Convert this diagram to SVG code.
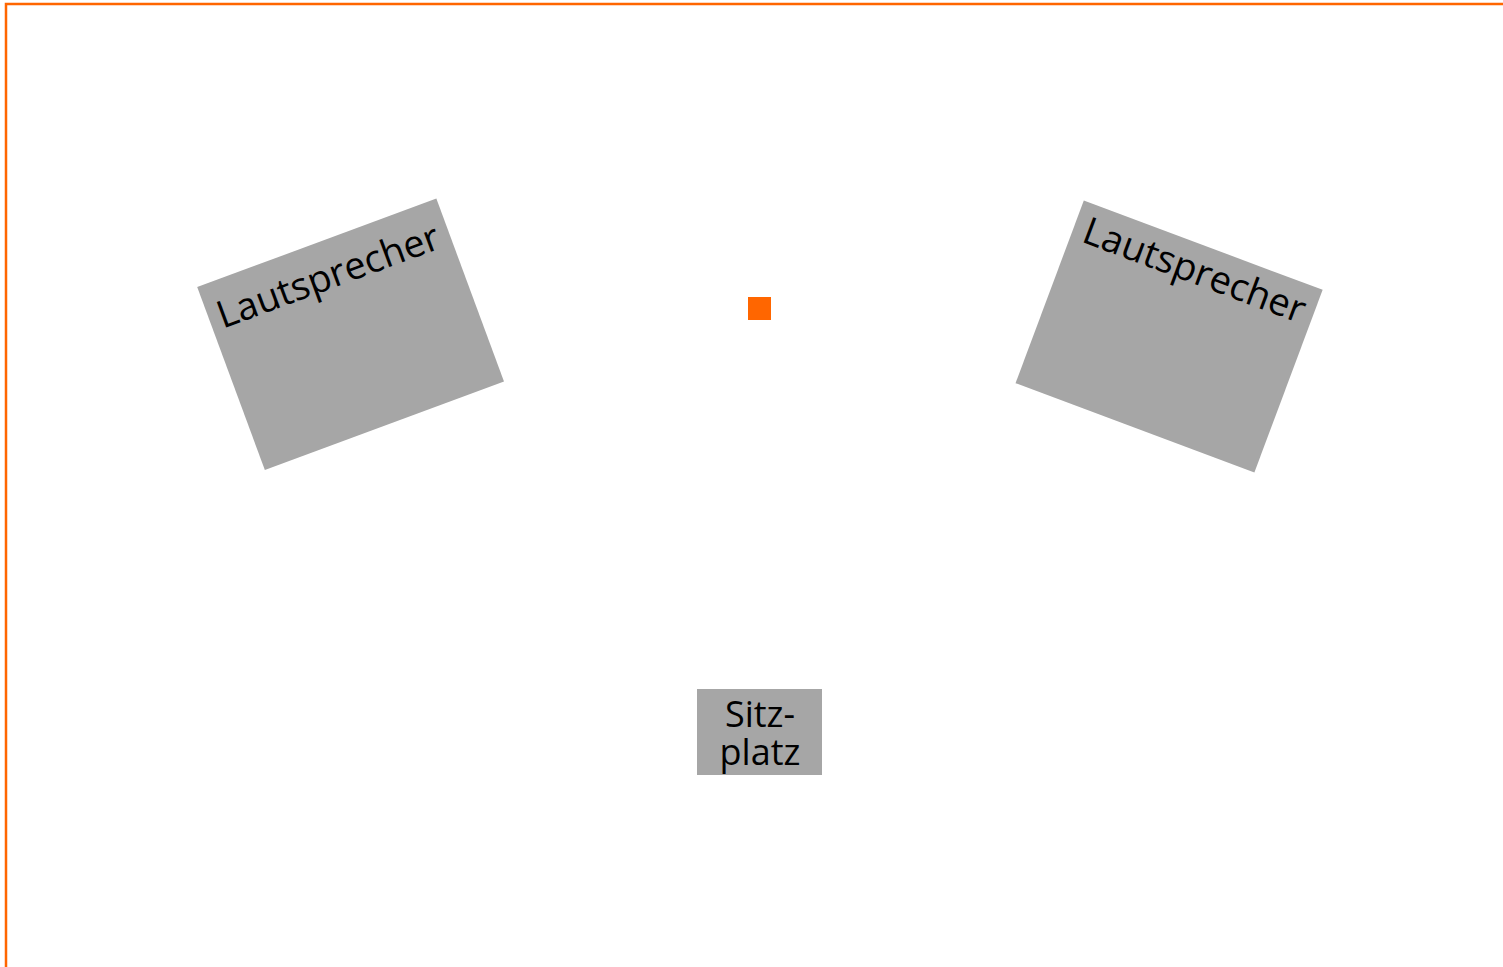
<svg xmlns="http://www.w3.org/2000/svg" width="1503" height="967" viewBox="0 0 1503 967">
<style>
.box{fill:#a6a6a6}
.lbl{font-family:"Open Sans","Noto Sans",sans-serif;font-size:36px;fill:#000}
.spk{font-size:38px}
</style>
<rect x="0" y="0" width="1503" height="967" fill="#fff"/>
<rect id="frame" x="6" y="4" width="1700" height="1200" fill="none" stroke="#ff6600" stroke-width="2.5"/>
<g id="connectors"></g>
<g id="speaker-left" transform="translate(350.6,334.3) rotate(-20.3)">
<rect class="box" x="-127.5" y="-97.5" width="255" height="195"/>
<text class="lbl spk" x="-118" y="-49.5">Lautsprecher</text>
</g>
<g id="speaker-right" transform="translate(1169.1,336.5) rotate(20.5)">
<rect class="box" x="-127.5" y="-97.5" width="255" height="195"/>
<text class="lbl spk" x="-116.5" y="-58">Lautsprecher</text>
</g>
<g id="center-mark">
<rect x="748" y="297" width="23" height="23" fill="#ff6600"/>
</g>
<g id="seat">
<rect class="box" x="697" y="689" width="125" height="86"/>
<text class="lbl" text-anchor="middle" x="760" y="727">Sitz-</text>
<text class="lbl" text-anchor="middle" x="760" y="765">platz</text>
</g>
</svg>
